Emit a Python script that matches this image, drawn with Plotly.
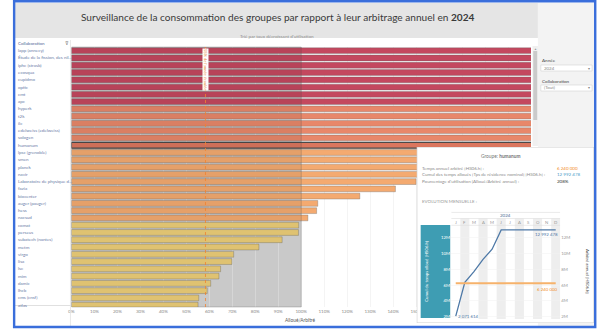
import plotly.graph_objects as go

W, H = 603, 332
FONT = "Lato"


def px(x):
    return x / W


def py(y):
    return 1 - y / H


# ---------------- data ----------------
categories = [
    "lapp (annecy)", "Étude de la fission, des nil...", "iphc (strasb)", "ecosqua",
    "cupidmo", "optic", "cmt", "apc", "hyperk", "t2k", "ilc",
    "edelweiss (edelweiss)", "sologen", "humanum", "lpsc (grenoble)", "smen",
    "planck", "navir", "Laboratoire de physique d...", "fazia", "biocenter",
    "auger (pauger)", "hess", "nacsud", "comat", "perseus", "subatech (nantes)",
    "metm", "virgo", "lisa", "lsc", "mim", "damic", "lhcb", "cms (cnsf)", "atlas",
]
utilisation = [
    1250, 900, 640, 520, 450, 390, 340, 305, 290, 260, 240, 225, 215, 208,
    195, 180, 168, 158, 150, 141, 125.5, 107.2, 106.7, 102.9, 98.9, 98.8,
    91.7, 81.6, 70.6, 69.8, 64.9, 64.2, 60.6, 59.1, 55.4, 55.1,
]
x_ticks = list(range(0, 201, 10))
x_tick_labels = [f"{t}%" for t in x_ticks]
reference_pct = 58.33
selected = "humanum"

months = ["J", "F", "M", "A", "M", "J", "J", "A", "S", "O", "N", "D"]
cumul_alloue = [2071614, 6350000, 7700000, 9250000, 10550000, 12992478,
                12992478, 12992478, 12992478, 12992478, 12992478, 12992478]
arbitre_annuel = [6240000, 6240000, 6240000, 6240000, 6240000, 6240000,
                  6240000, 6240000, 6240000, 6240000, 6240000, 6240000]
mini_ticks = [2e6, 4e6, 6e6, 8e6, 10e6, 12e6]
mini_tick_labels = ["2M", "4M", "6M", "8M", "10M", "12M"]


def color_for(v):
    if v >= 300:
        return "#C4485F"
    if v >= 200:
        return "#E8876A"
    if v >= 100:
        return "#F4AA70"
    return "#EDCF79"


fig = go.Figure()

# ---------------- main bar chart ----------------
n = len(categories)
ypos = list(range(n))
colors = ["#DB765E" if c == selected else color_for(v) for c, v in zip(categories, utilisation)]
lcols = ["#4a4a4a" if c == selected else "rgba(95,95,95,0.55)" for c in categories]
lwids = [1.2 if c == selected else 0.6 for c in categories]
fig.add_trace(go.Bar(
    x=utilisation, y=ypos, orientation="h", width=0.8,
    marker=dict(color=colors, line=dict(color=lcols, width=lwids)),
    xaxis="x", yaxis="y", hoverinfo="skip",
))

# ---------------- tooltip background (own subplot, drawn above main) ----------------
fig.add_trace(go.Scatter(
    x=[0, 1, 1, 0, 0], y=[0, 0, 1, 1, 0], mode="lines", fill="toself",
    fillcolor="white", line=dict(color="#CFCFCF", width=1.2),
    xaxis="x2", yaxis="y2", hoverinfo="skip",
))
TX0, TX1, TY0, TY1 = 420, 600, 147, 323


def tx(p):
    return (p - TX0) / (TX1 - TX0)


def ty(p):
    return (TY1 - p) / (TY1 - TY0)


fig.add_trace(go.Scatter(
    x=[tx(424), tx(454), tx(454), tx(424), tx(424)],
    y=[ty(318), ty(318), ty(225), ty(225), ty(318)],
    mode="lines", fill="toself", fillcolor="#3E9DB3", line=dict(width=0),
    xaxis="x2", yaxis="y2", hoverinfo="skip",
))


# ---------------- mini chart ----------------
def mini_val(p):
    return 2e6 + (316.7 - p) / 7.9 * 1e6


mx = list(range(len(months)))
fig.add_trace(go.Scatter(
    x=mx, y=arbitre_annuel, mode="lines", line=dict(color="#F6B26B", width=2),
    xaxis="x3", yaxis="y4", hoverinfo="skip",
))
fig.add_trace(go.Scatter(
    x=mx, y=cumul_alloue, mode="lines", line=dict(color="#4E79A7", width=1.3),
    xaxis="x3", yaxis="y3", hoverinfo="skip",
))

shapes = []
# title bar / filter panel
shapes.append(dict(type="rect", xref="paper", yref="paper", x0=px(12), x1=px(543), y0=py(38), y1=py(3),
                   fillcolor="#E5E5E5", line=dict(width=0), layer="below"))
shapes.append(dict(type="rect", xref="paper", yref="paper", x0=px(543), x1=px(601), y0=py(326), y1=py(3),
                   fillcolor="#F3F3F3", line=dict(width=0), layer="below"))
# gray band 0-100%
shapes.append(dict(type="rect", xref="x", yref="paper", x0=0, x1=100, y0=py(307), y1=py(47),
                   fillcolor="#D6D6D6", line=dict(width=0), layer="below"))
shapes.append(dict(type="rect", xref="x", yref="paper", x0=0, x1=100, y0=py(307), y1=py(47),
                   fillcolor="rgba(0,0,0,0.06)", line=dict(color="rgba(80,80,80,0.35)", width=0.8), layer="above"))
# reference line
shapes.append(dict(type="line", xref="x", yref="paper", x0=reference_pct, x1=reference_pct, y0=py(307), y1=py(47),
                   line=dict(color="rgba(240,130,50,0.8)", width=1, dash="dot"), layer="above"))
# label column box
shapes.append(dict(type="line", xref="paper", yref="paper", x0=px(68.5), x1=px(68.5), y0=py(326), y1=py(40),
                   line=dict(color="#E2E2E2", width=0.8), layer="above"))
shapes.append(dict(type="line", xref="paper", yref="paper", x0=px(12), x1=px(68.5), y0=py(305.5), y1=py(305.5),
                   line=dict(color="#D8D8D8", width=0.8), layer="above"))
# scrollbar
shapes.append(dict(type="rect", xref="paper", yref="paper", x0=px(537.5), x1=px(543), y0=py(146), y1=py(46),
                   fillcolor="#F0F0F0", line=dict(width=0), layer="below"))
shapes.append(dict(type="rect", xref="paper", yref="paper", x0=px(538.3), x1=px(542.3), y0=py(120), y1=py(51),
                   fillcolor="#CACACA", line=dict(width=0), layer="below"))
# dropdowns
for y0, y1 in [(65, 71), (85, 91)]:
    shapes.append(dict(type="rect", xref="paper", yref="paper", x0=px(546), x1=px(598), y0=py(y1), y1=py(y0),
                       fillcolor="white", line=dict(color="#D5D5D5", width=0.6), layer="below"))
# mini chart: column shading & header lines
for i in range(1, 12, 2):
    shapes.append(dict(type="rect", xref="x3", yref="y3", x0=i - 0.5, x1=i + 0.5,
                       y0=mini_val(330), y1=mini_val(218.5), fillcolor="#EEEEEE",
                       line=dict(width=0), layer="below"))
for p in [218.5, 225.3]:
    shapes.append(dict(type="line", xref="x3", yref="y3", x0=-0.5, x1=11.5, y0=mini_val(p), y1=mini_val(p),
                       line=dict(color="#DDDDDD", width=0.6), layer="below"))
shapes.append(dict(type="line", xref="x3", yref="y3", x0=-0.5, x1=11.5, y0=mini_val(212.2), y1=mini_val(212.2),
                   line=dict(color="#DDDDDD", width=0.8), layer="below"))
# blue frame
shapes.append(dict(type="rect", xref="paper", yref="paper", x0=px(11.3), x1=px(601.2), y0=py(327), y1=py(1.2),
                   fillcolor="rgba(0,0,0,0)", line=dict(color="#3A6EDB", width=2.4), layer="above"))

ann = []


def A(text, x, y, size=4.5, color="#555", xanchor="left", yanchor="middle",
      xref="paper", yref="paper", **kw):
    ann.append(dict(text=text, x=x, y=y, xref=xref, yref=yref, showarrow=False,
                    font=dict(size=size, color=color, family=FONT),
                    xanchor=xanchor, yanchor=yanchor, borderpad=0, **kw))


# title
A("Surveillance de la consommation des groupes par rapport à leur arbitrage annuel en <b>2024</b>",
  px(279), py(17), size=10.1, color="#3a3a3a", xanchor="center")
A("Trié par taux décroissant d'utilisation", px(278), py(35.5), size=4.6, color="#8c8c8c", xanchor="center")
# category labels
A("Collaboration", px(14.5), py(44), size=4.5, color="#4F6897")
A("⊽", px(62), py(44), size=4.5, color="#777")
for i, c in enumerate(categories):
    A(c, px(14.5), i, size=4.5, color="#6B7DA8", yref="y")
# reference label
A("58% de l'année écoulée", reference_pct, py(48), size=4, color="#E8893A", xanchor="center",
  yanchor="top", xref="x", textangle=90, bgcolor="white")
# x axis title
A("Alloué/Arbitré", px(302), py(320), size=4.8, color="#555")
ann[-1]["xanchor"] = "center"
# filters
A("Année", px(546.5), py(60), size=4.6, color="#444")
A("2024", px(548), py(68), size=4.4, color="#888")
A("▾", px(596.5), py(68), size=4.4, color="#888", xanchor="right")
A("Collaboration", px(546.5), py(80.5), size=4.6, color="#444")
A("(Tout)", px(548), py(88), size=4.4, color="#888")
A("▾", px(596.5), py(88), size=4.4, color="#888", xanchor="right")
A("▲", px(540.3), py(49), size=3, color="#999", xanchor="center")
# tooltip texts
A("Groupe: <b>humanum</b>", px(505), py(155.7), size=4.8, color="#777", xanchor="center")
A("Temps annuel arbitré [HS06.h] :", px(424), py(168.3), size=4.5, color="#8a8a8a")
A("Cumul des temps alloués [Tps de résidence nominal] [HS06.h] :", px(424), py(174.3), size=4.5, color="#8a8a8a")
A("Pourcentage d'utilisation (Alloué/Arbitré annuel) :", px(424), py(181.3), size=4.5, color="#8a8a8a")
A("6 240 000", px(561), py(168.3), size=4.5, color="#F28E2B")
A("12 992 478", px(561), py(174.3), size=4.5, color="#4A9BC8")
A("208%", px(561), py(181.3), size=4.5, color="#333")
A("EVOLUTION MENSUELLE :", px(424), py(201), size=4.5, color="#999")
# mini chart texts
A("2024", px(510.5), py(215.2), size=4.5, color="#4F6D94", xanchor="center")
for i, m in enumerate(months):
    A(m, i, py(222.2), size=4.3, color="#999", xanchor="center", xref="x3")
A("Cumul du temps alloué [HS06.h]", px(430.5), py(271.7), size=4.3, color="white",
  xanchor="center", textangle=-90)
A("Arbitré annuel [HS06.h]", px(593.5), py(271.7), size=4.3, color="#444",
  xanchor="center", textangle=90)
A("12 992 478", 11.4, cumul_alloue[-1], size=4.4, color="#4E79A7", xanchor="right",
  yanchor="top", xref="x3", yref="y3", yshift=-1.5)
A("6 240 000", 11.4, arbitre_annuel[-1], size=4.4, color="#F28E2B", xanchor="right",
  yanchor="top", xref="x3", yref="y4", yshift=-2.5)
A("2 071 614", 0.1, cumul_alloue[0], size=4.4, color="#4E79A7", xanchor="left",
  xref="x3", yref="y3")

fig.update_layout(
    width=W, height=H, margin=dict(l=0, r=0, t=0, b=0),
    paper_bgcolor="white", plot_bgcolor="rgba(0,0,0,0)",
    showlegend=False, hovermode=False, bargap=0.2,
    font=dict(family=FONT),
    xaxis=dict(domain=[px(69.5), px(536)], range=[0, 200], tickvals=x_ticks, ticktext=x_tick_labels,
               tickfont=dict(size=4.5, color="#8a8a8a", family=FONT), showgrid=True,
               gridcolor="#ECECEC", gridwidth=0.6, zeroline=False, showline=False,
               ticks="", anchor="y", fixedrange=True),
    yaxis=dict(domain=[py(307), py(47)], range=[35.25, -0.509], showticklabels=False,
               showgrid=False, zeroline=False, showline=False, ticks="", anchor="x"),
    xaxis2=dict(domain=[px(TX0), px(TX1)], range=[0, 1], visible=False, anchor="y2"),
    yaxis2=dict(domain=[py(TY1), py(TY0)], range=[0, 1], visible=False, anchor="x2"),
    xaxis3=dict(domain=[px(455), px(565.7)], range=[-0.5, 11.5], showticklabels=False,
                showgrid=False, zeroline=False, showline=False, ticks="", anchor="y3"),
    yaxis3=dict(domain=[py(319), py(211.7)], range=[mini_val(319), mini_val(211.7)],
                tickvals=mini_ticks, ticktext=mini_tick_labels,
                tickfont=dict(size=4.4, color="white", family=FONT), showgrid=True,
                gridcolor="#F1F1F1", gridwidth=0.5, zeroline=False, showline=False,
                ticks="", anchor="x3"),
    yaxis4=dict(overlaying="y3", side="right", range=[mini_val(319), mini_val(211.7)],
                tickvals=mini_ticks, ticktext=mini_tick_labels,
                tickfont=dict(size=4.4, color="#999", family=FONT), showgrid=False,
                zeroline=False, showline=False, ticks="", anchor="x3"),
    shapes=shapes, annotations=ann,
)

fig.write_html("out.html", config={"displayModeBar": False, "staticPlot": True})
